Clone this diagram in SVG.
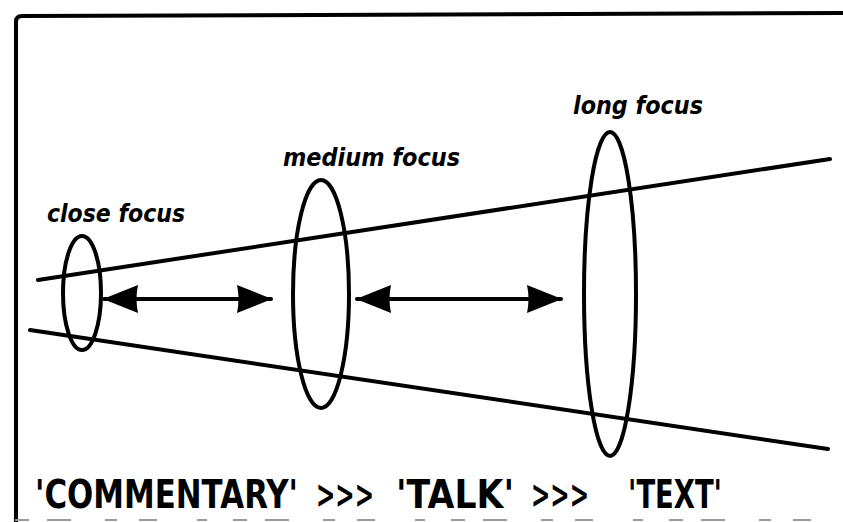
<svg xmlns="http://www.w3.org/2000/svg" width="843" height="522" viewBox="0 0 843 522">
<defs>
<style>
.ln{fill:none;stroke:#000;stroke-width:4;stroke-linecap:round;stroke-linejoin:round}
.lab{font-family:"DejaVu Sans","Liberation Sans",sans-serif;font-style:italic;font-weight:bold;font-size:24px;fill:#000}
.big{font-family:"DejaVu Sans","Liberation Sans",sans-serif;font-weight:bold;font-size:29px;fill:#000}
</style>
<marker id="ah" viewBox="0 0 36 30" refX="34" refY="15" markerWidth="36" markerHeight="30" markerUnits="userSpaceOnUse" orient="auto-start-reverse">
<path d="M0,1 L35,15 L0,29 Q3,15 0,1 Z" fill="#000"/>
</marker>
</defs>
<rect width="843" height="522" fill="#fff"/>
<g id="frame">
<path class="ln" d="M16,522 L16,22 Q16,16 22,16 L843,13"/>
<line x1="15" y1="520" x2="843" y2="520" stroke="#999" stroke-width="2" stroke-dasharray="14 18 24 34 12 22 18 40 10 26"/>
</g>
<g id="cone">
<line class="ln" x1="38" y1="280" x2="830" y2="159"/>
<line class="ln" x1="30" y1="330" x2="828" y2="449"/>
</g>
<g id="close-focus">
<ellipse class="ln" cx="82" cy="293" rx="19" ry="57"/>
<text class="lab" x="47" y="222" textLength="138" lengthAdjust="spacingAndGlyphs">close focus</text>
</g>
<g id="medium-focus">
<ellipse class="ln" cx="321" cy="294" rx="28" ry="114"/>
<text class="lab" x="283" y="166" textLength="177" lengthAdjust="spacingAndGlyphs">medium focus</text>
</g>
<g id="long-focus">
<ellipse class="ln" cx="610" cy="294" rx="26" ry="162"/>
<text class="lab" x="573" y="114" textLength="130" lengthAdjust="spacingAndGlyphs">long focus</text>
</g>
<g id="connectors">
<line class="ln" x1="104" y1="299" x2="271" y2="299" marker-start="url(#ah)" marker-end="url(#ah)"/>
<line class="ln" x1="357" y1="299" x2="561" y2="299" marker-start="url(#ah)" marker-end="url(#ah)"/>
</g>
<g id="caption" transform="translate(0,508) scale(1,1.32)">
<text class="big" x="35" y="0" textLength="263" lengthAdjust="spacingAndGlyphs">'COMMENTARY'</text>
<text class="big" x="316" y="0" textLength="58" lengthAdjust="spacingAndGlyphs">&gt;&gt;&gt;</text>
<text class="big" x="396" y="0" textLength="118" lengthAdjust="spacingAndGlyphs">'TALK'</text>
<text class="big" x="531" y="0" textLength="58" lengthAdjust="spacingAndGlyphs">&gt;&gt;&gt;</text>
<text class="big" x="628" y="0" textLength="94" lengthAdjust="spacingAndGlyphs">'TEXT'</text>
</g>
</svg>
